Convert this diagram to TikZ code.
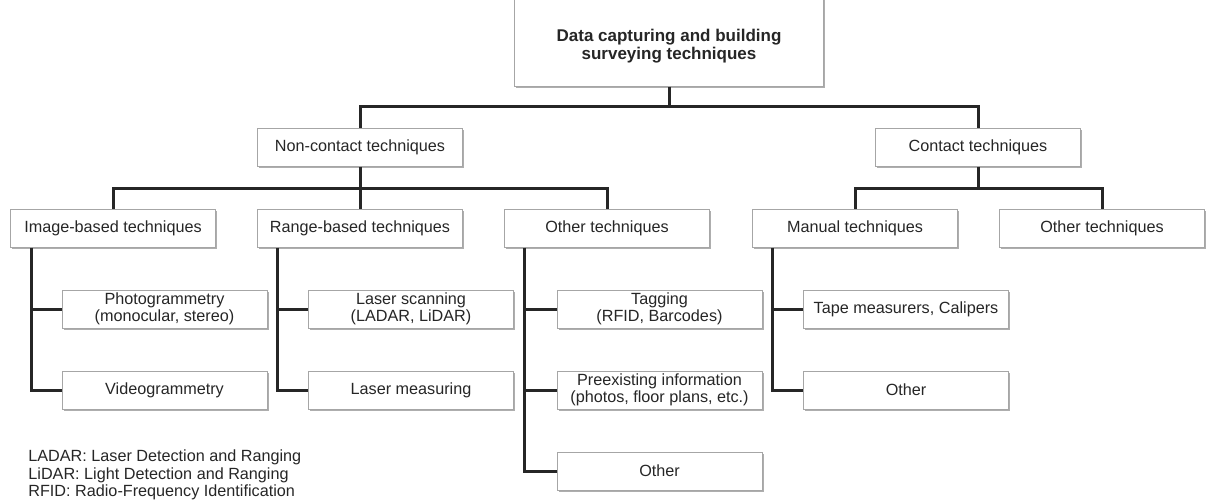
\documentclass[tikz,border=0pt]{standalone}
\usepackage{fontspec}
\setmainfont{Liberation Sans}
\usepackage{tikz}
\usetikzlibrary{shadows,calc}

\begin{document}
\begin{tikzpicture}[x=0.5pt,y=-0.5pt,
  box/.style={draw=black!35,fill=white,line width=0.5pt,inner sep=0pt,
    minimum width=102.5pt,minimum height=19pt,align=center,text=black!85,
    font=\fontsize{8.1}{8.4}\selectfont,
    drop shadow={shadow xshift=0.8pt,shadow yshift=-1pt,fill=black!45,opacity=0.7}},
  rootbox/.style={box,minimum width=154.5pt,minimum height=45pt},
  roottext/.style={align=center,inner sep=0pt,text=black!85,yshift=-2.5pt,
    font=\fontsize{8.5}{8.9}\selectfont\bfseries},
  link/.style={draw=black!85,line width=1.5pt}]
\clip (0,0) rectangle (1208,500);
\node[rootbox,label={[roottext]center:Data capturing and building\\surveying techniques}] (root) at (669,41) {};
\node[box] (noncontact) at (360,147) {Non-contact techniques};
\node[box] (contact) at (978,147) {Contact techniques};
\node[box] (image) at (113,228) {Image-based techniques};
\node[box] (range) at (360,228) {Range-based techniques};
\node[box] (othernc) at (607,228) {Other techniques};
\node[box] (manual) at (855,228) {Manual techniques};
\node[box] (othercon) at (1102,228) {Other techniques};
\node[box] (photo) at (164.5,309) {Photogrammetry\\(monocular, stereo)};
\node[box] (video) at (164.5,390) {Videogrammetry};
\node[box] (scan) at (411,309) {Laser scanning\\(LADAR, LiDAR)};
\node[box] (measure) at (411,390) {Laser measuring};
\node[box] (tag) at (659.5,309) {Tagging\\(RFID, Barcodes)};
\node[box] (preexist) at (659.5,390) {Preexisting information\\(photos, floor plans, etc.)};
\node[box] (otherinfo) at (659.5,471) {Other};
\node[box] (tape) at (906,309) {Tape measurers, Calipers};
\node[box] (othermanual) at (906,390) {Other};
\node[anchor=west,align=left,inner sep=0pt,text=black!85,
  font=\fontsize{8.1}{8.75}\selectfont] (legend) at (28,475)
  {LADAR: Laser Detection and Ranging\\LiDAR: Light Detection and Ranging\\RFID: Radio-Frequency Identification};
\coordinate (bar1) at (669,106);
\coordinate (bar2) at (360,188);
\coordinate (bar3) at (978,188);
\coordinate (imgtrunk) at ([xshift=10.5pt]image.south west);
\coordinate (rngtrunk) at ([xshift=10pt]range.south west);
\coordinate (othtrunk) at ([xshift=10pt]othernc.south west);
\coordinate (mantrunk) at ([xshift=10pt]manual.south west);
\draw[link] (root.south) -- (bar1);
\draw[link] (noncontact.north) |- (bar1) -| (contact.north);
\draw[link] (noncontact.south) -- (range.north);
\draw[link] (image.north) |- (bar2) -| (othernc.north);
\draw[link] (contact.south) -- (bar3);
\draw[link] (manual.north) |- (bar3) -| (othercon.north);
\draw[link] (imgtrunk) |- (video.west);
\draw[link] (photo.west) -- (photo.west -| imgtrunk);
\draw[link] (rngtrunk) |- (measure.west);
\draw[link] (scan.west) -- (scan.west -| rngtrunk);
\draw[link] (othtrunk) |- (otherinfo.west);
\draw[link] (tag.west) -- (tag.west -| othtrunk);
\draw[link] (preexist.west) -- (preexist.west -| othtrunk);
\draw[link] (mantrunk) |- (othermanual.west);
\draw[link] (tape.west) -- (tape.west -| mantrunk);
\end{tikzpicture}
\end{document}
